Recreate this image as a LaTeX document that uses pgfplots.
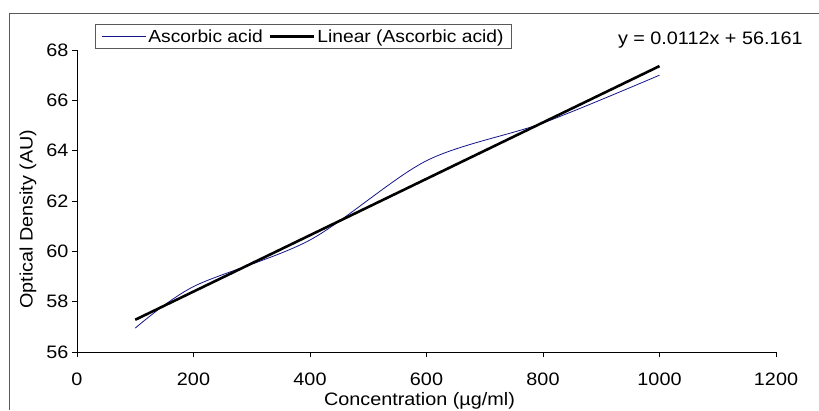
\documentclass[border=0pt]{standalone}
\usepackage{fontspec}
\setmainfont[FakeStretch=1.1]{Liberation Sans}
\usepackage{pgfplots}
\pgfplotsset{compat=1.18}
\definecolor{navyline}{RGB}{20,20,140}
\begin{document}
\begin{tikzpicture}[x=1pt,y=1pt]
\useasboundingbox (-77,-58) rectangle (742,352);
\draw[gray!70!black, line width=1pt] (-67,-58) -- (-67,338) -- (742,338);
\begin{axis}[
    at={(0,0)}, anchor=south west,
    scale only axis,
    width=699pt, height=302pt,
    xmin=0, xmax=1200, ymin=56, ymax=68,
    xtick={0,200,...,1200},
    ytick={56,58,...,68},
    axis lines=left,
    axis line style={-, line width=0.8pt},
    tick style={black, line width=0.8pt},
    tick align=outside,
    major tick length=5pt,
    /pgf/number format/assume math mode=true,
    /pgf/number format/1000 sep={},
    tick label style={font=\fontsize{18}{21}\selectfont},
    xticklabel style={yshift=-12pt},
    label style={font=\fontsize{18}{21}\selectfont},
    xlabel={Concentration (µg/ml)},
    xlabel style={at={(axis description cs:0.49,-0.162)}, anchor=center},
    ylabel={Optical Density (AU)},
    ylabel style={at={(axis description cs:-0.07,0.44)}, anchor=center},
    legend columns=2,
    legend style={at={(0.0258,1.086)}, anchor=north west,
        draw=gray!70!black, line width=1pt,
        font=\fontsize{17.5}{21}\selectfont,
        inner ysep=3pt, inner xsep=6pt,
        /tikz/every even column/.append style={column sep=4pt}},
    legend image code/.code={\draw[#1] (0pt,0pt) -- (44pt,0pt);},
    clip=false,
]
\addplot[navyline, line width=0.8pt, smooth, tension=0.5] coordinates {
    (100,56.95) (200,58.6) (400,60.45) (600,63.6) (800,65.1) (1000,67.0)
};
\addlegendentry{Ascorbic acid}
\addplot[black, line width=2.6pt] coordinates {
    (100,57.281) (1000,67.361)
};
\addlegendentry{Linear (Ascorbic acid)}
\node[font=\fontsize{18}{21}\selectfont, anchor=center] at (rel axis cs:0.906,1.033) {y = 0.0112x + 56.161};
\end{axis}
\end{tikzpicture}
\end{document}
